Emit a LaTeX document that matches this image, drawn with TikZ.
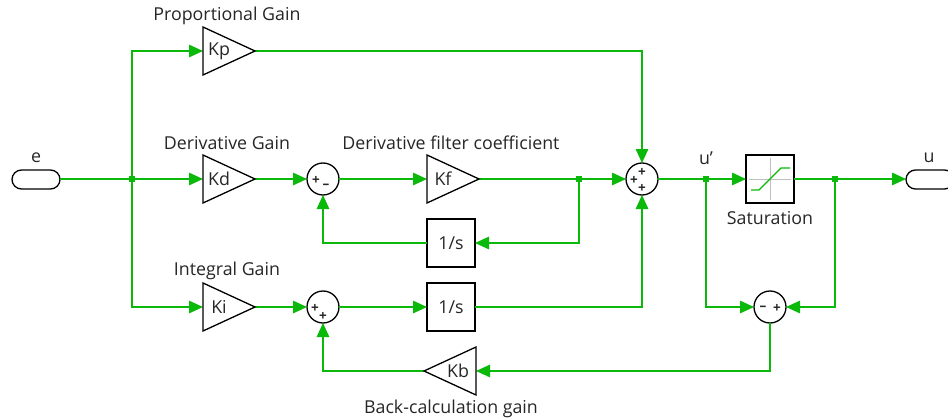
\documentclass[tikz,border=0pt]{standalone}
\usepackage{fontspec}
\setmainfont{Open Sans}
\usetikzlibrary{arrows.meta}
\definecolor{wire}{RGB}{10,185,10}
\tikzset{
  x=1pt,y=-1pt,
  every node/.style={inner sep=0pt,outer sep=0pt},
  lbl/.style={font=\fontsize{17.8}{20}\selectfont,text=black!85},
  gainlbl/.style={font=\fontsize{17.8}{20}\selectfont,text=black!85},
  wireline/.style={draw=wire,line width=1.4pt},
  conn/.style={wireline,-{Triangle[length=14pt,width=12.5pt,fill=wire]}},
  blockbox/.style={draw=black,line width=1.1pt,minimum width=48pt,minimum height=48pt,fill=white,gainlbl},
  sumcirc/.style={circle,draw=black,line width=1.3pt,minimum size=32pt,fill=white},
  port/.style={draw=black,line width=1.3pt,rounded corners=9.5pt,minimum width=48pt,minimum height=19pt,fill=white},
  dotj/.style={fill=wire,minimum size=5.5pt},
  sgn/.style={font=\fontsize{13.5}{13.5}\selectfont\bfseries,text=black!85},
}
\newcommand{\rtri}[3]{\draw[black,line width=1.3pt,fill=white,line join=miter] (#1,#2-24) -- (#1+52,#2) -- (#1,#2+24) -- cycle; \node[gainlbl] at (#1+16,#2) {#3};}
\begin{document}
\begin{tikzpicture}
\useasboundingbox (0,0) rectangle (948,420);
\coordinate (KpIn) at (203,51); \coordinate (KpOut) at (255,51);
\coordinate (KdIn) at (203,179); \coordinate (KdOut) at (255,179);
\coordinate (KiIn) at (203,307); \coordinate (KiOut) at (255,307);
\coordinate (KfIn) at (427,179); \coordinate (KfOut) at (478,179);
\coordinate (KbIn) at (476,371); \coordinate (KbOut) at (424,371);
\node[port] (e) at (36,179.5) {};
\node[dotj] (j1) at (132,179) {};
\node[sumcirc] (s1) at (323,179) {};
\node[sumcirc] (s2) at (323,307) {};
\node[sumcirc] (sm) at (642,179) {};
\node[sumcirc] (s3) at (770,307) {};
\node[blockbox] (i1) at (451,243) {1/s};
\node[blockbox] (i2) at (451,307) {1/s};
\node[blockbox] (sat) at (770,179) {};
\node[dotj] (j2) at (579,179) {};
\node[dotj] (j3) at (706,179) {};
\node[dotj] (j4) at (835,179) {};
\node[port] (u) at (930,179.5) {};
\draw[wireline] (e.east |- j1) -- (j1);
\draw[conn] (j1) -- (KdIn);
\draw[conn] (j1) |- (KpIn);
\draw[conn] (j1) |- (KiIn);
\draw[conn] (KpOut) -| (sm);
\draw[conn] (KdOut) -- (s1);
\draw[conn] (s1) -- (KfIn);
\draw[wireline] (KfOut) -- (j2);
\draw[conn] (j2) -- (sm);
\draw[conn] (j2) |- (i1);
\draw[conn] (i1) -| (s1);
\draw[conn] (KiOut) -- (s2);
\draw[conn] (s2) -- (i2);
\draw[conn] (i2) -| (sm);
\draw[wireline] (sm) -- (j3);
\draw[conn] (j3) -- (sat);
\draw[wireline] (sat) -- (j4);
\draw[conn] (j4) -- (u.west |- j4);
\draw[conn] (j3) |- (s3);
\draw[conn] (j4) |- (s3);
\draw[conn] (s3) |- (KbIn);
\draw[conn] (KbOut) -| (s2);
\rtri{203}{51}{Kp}
\rtri{203}{179}{Kd}
\rtri{203}{307}{Ki}
\rtri{427}{179}{Kf}
\draw[black,line width=1.3pt,fill=white] (476,347) -- (424,371) -- (476,395) -- cycle;
\node[gainlbl] at (458,371) {Kb};
\draw[black!25,line width=1pt] (749,179) -- (791,179) (770,158) -- (770,200);
\draw[wire,line width=1.4pt] (751,190) -- (759,190) -- (781,168) -- (790,168);
\node[sgn] at (316,180) {+}; \node[sgn] at (326,186) {--};
\node[sgn] at (315,308) {+}; \node[sgn] at (323,316) {+};
\node[sgn] at (642,172) {+}; \node[sgn] at (634,180) {+}; \node[sgn] at (642,188) {+};
\node[sgn] at (763,308) {--}; \node[sgn] at (777,308) {+};
\node[lbl] at (227,16) {Proportional Gain};
\node[lbl] at (227,143) {Derivative Gain};
\node[lbl] at (451,143) {Derivative filter coefficient};
\node[lbl] at (227,271) {Integral Gain};
\node[lbl] at (451,409) {Back-calculation gain};
\node[lbl] at (770,218) {Saturation};
\node[lbl] at (36,158) {e};
\node[lbl] at (706,158) {u'};
\node[lbl] at (929,158) {u};
\end{tikzpicture}
\end{document}
